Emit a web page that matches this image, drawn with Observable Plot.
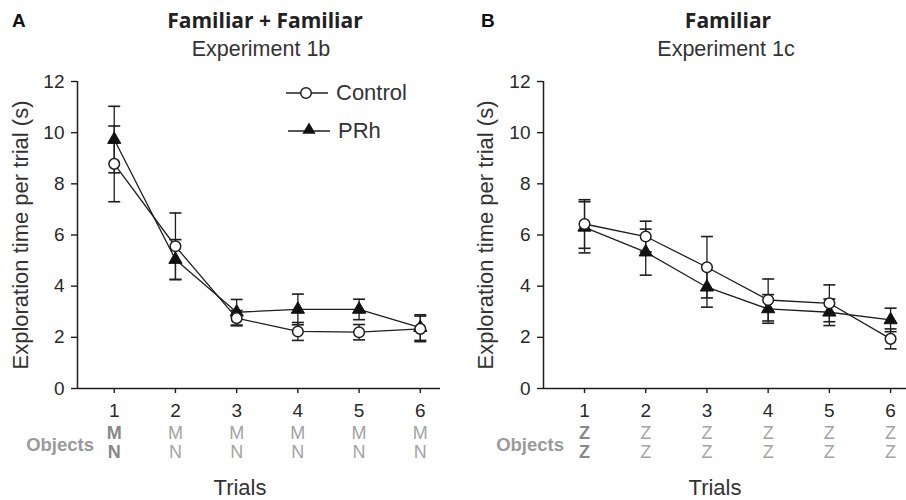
<!DOCTYPE html>
<html>
<head>
<meta charset="utf-8">
<script src="https://cdn.jsdelivr.net/npm/d3@7"></script>
<script src="https://cdn.jsdelivr.net/npm/@observablehq/plot@0.6"></script>
<style>
  html, body { margin: 0; padding: 0; background: #fff; }
  #wrap { position: relative; width: 906px; height: 500px; overflow: hidden; font-family: "Liberation Sans", Arial, sans-serif; color: #222; }
  #wrap > svg { position: absolute; top: 0; }
  .abs { position: absolute; white-space: nowrap; }
  .letter { font-weight: bold; font-size: 19px; color: #111; }
  .title { font-family: "Open Sans", "Liberation Sans", sans-serif; font-weight: 700; font-size: 21px; color: #222; transform: translateX(-50%); }
  .sub { font-size: 21.5px; color: #333; transform: translateX(-50%); }
  .ylab { font-size: 22px; color: #333; transform: translate(-50%, -50%) rotate(-90deg); }
  .xlab { font-size: 22px; color: #333; transform: translateX(-50%); }
  .objlab { font-weight: bold; font-size: 18.5px; color: #9a9a9a; transform: translateX(-100%); }
  .leg { font-size: 22px; color: #333; display: flex; align-items: center; }
</style>
</head>
<body>
<div id="wrap"></div>
<script>
// ---------- data ----------
const trials = [1, 2, 3, 4, 5, 6];
const yTicks = [0, 2, 4, 6, 8, 10, 12];

// Panel A: Familiar + Familiar (Experiment 1b)
const controlA = [8.78, 5.56, 2.75, 2.23, 2.2, 2.33];
const controlA_sem = [1.48, 1.3, 0.3, 0.35, 0.3, 0.5];
const prhA = [9.73, 5.04, 2.98, 3.09, 3.09, 2.38];
const prhA_sem = [1.3, 0.78, 0.5, 0.6, 0.4, 0.5];
const objTopA = ["M", "M", "M", "M", "M", "M"];
const objBottomA = ["N", "N", "N", "N", "N", "N"];

// Panel B: Familiar (Experiment 1c)
const controlB = [6.43, 5.94, 4.74, 3.46, 3.33, 1.94];
const controlB_sem = [0.95, 0.6, 1.2, 0.82, 0.72, 0.39];
const prhB = [6.3, 5.33, 3.96, 3.11, 2.98, 2.68];
const prhB_sem = [1.0, 0.9, 0.78, 0.56, 0.52, 0.46];
const objTopB = ["Z", "Z", "Z", "Z", "Z", "Z"];
const objBottomB = ["Z", "Z", "Z", "Z", "Z", "Z"];

// ---------- helpers ----------
const rows = (vals, sems) => trials.map((t, i) => ({trial: t, v: vals[i], e: sems[i]}));
const objRows = (top, bottom) => trials.map((t, i) => ({trial: t, top: top[i], bottom: bottom[i]}));
const capSymbol = {
  draw(ctx, size) {
    const w = Math.sqrt(size / Math.PI);
    ctx.moveTo(-w, 0);
    ctx.lineTo(w, 0);
  }
};
const INK = "#1e1e1e";

function panel({control, prh, objs, xDomain, marginLeft, marginRight}) {
  return Plot.plot({
    width: 453,
    height: 500,
    marginTop: 81,
    marginBottom: 112,
    marginLeft,
    marginRight,
    x: {domain: xDomain},
    y: {domain: [0, 12]},
    style: {background: "transparent", overflow: "visible", fontFamily: "Liberation Sans, Arial, sans-serif", fontSize: "19px", color: "#2a2a2a"},
    marks: [
      Plot.axisX(trials, {tickSize: 5, tickPadding: 10, fontSize: 19, tickFormat: d => String(d), label: null, stroke: INK, strokeWidth: 1.4}),
      Plot.axisY(yTicks, {tickSize: 6, tickPadding: 7, fontSize: 19, label: null, stroke: INK, strokeWidth: 1.4}),
      Plot.ruleY([0], {stroke: INK, strokeWidth: 1.5}),
      Plot.ruleX([xDomain[0]], {stroke: INK, strokeWidth: 1.5}),
      // connecting lines
      Plot.line(control, {x: "trial", y: "v", stroke: INK, strokeWidth: 1.3}),
      Plot.line(prh, {x: "trial", y: "v", stroke: INK, strokeWidth: 1.3}),
      // error bars
      Plot.ruleX(control, {x: "trial", y1: d => d.v - d.e, y2: d => d.v + d.e, stroke: INK, strokeWidth: 1.3}),
      Plot.ruleX(prh, {x: "trial", y1: d => d.v - d.e, y2: d => d.v + d.e, stroke: INK, strokeWidth: 1.3}),
      Plot.dot(control, {x: "trial", y: d => d.v + d.e, symbol: capSymbol, r: 6, stroke: INK, strokeWidth: 1.6}),
      Plot.dot(control, {x: "trial", y: d => d.v - d.e, symbol: capSymbol, r: 6, stroke: INK, strokeWidth: 1.6}),
      Plot.dot(prh, {x: "trial", y: d => d.v + d.e, symbol: capSymbol, r: 6, stroke: INK, strokeWidth: 1.6}),
      Plot.dot(prh, {x: "trial", y: d => d.v - d.e, symbol: capSymbol, r: 6, stroke: INK, strokeWidth: 1.6}),
      // markers
      Plot.dot(prh, {x: "trial", y: "v", symbol: "triangle", r: 4.9, fill: "#111", stroke: "#111", strokeWidth: 1}),
      Plot.dot(control, {x: "trial", y: "v", r: 5.3, fill: "white", stroke: INK, strokeWidth: 1.5}),
      // object rows below the axis
      Plot.text(objs, {filter: d => d.trial === 1, x: "trial", text: "top", frameAnchor: "bottom", dy: 50, fontSize: 18, fontWeight: "bold", fill: "#888"}),
      Plot.text(objs, {filter: d => d.trial === 1, x: "trial", text: "bottom", frameAnchor: "bottom", dy: 69, fontSize: 18, fontWeight: "bold", fill: "#888"}),
      Plot.text(objs, {filter: d => d.trial !== 1, x: "trial", text: "top", frameAnchor: "bottom", dy: 50, fontSize: 18, fill: "#a3a3a3"}),
      Plot.text(objs, {filter: d => d.trial !== 1, x: "trial", text: "bottom", frameAnchor: "bottom", dy: 69, fontSize: 18, fill: "#a3a3a3"})
    ]
  });
}

const wrap = document.getElementById("wrap");

const plotA = panel({
  control: rows(controlA, controlA_sem),
  prh: rows(prhA, prhA_sem),
  objs: objRows(objTopA, objBottomA),
  xDomain: [0.4, 6.33],
  marginLeft: 77,
  marginRight: 13
});
plotA.style.left = "0px";
wrap.appendChild(plotA);

const plotB = panel({
  control: rows(controlB, controlB_sem),
  prh: rows(prhB, prhB_sem),
  objs: objRows(objTopB, objBottomB),
  xDomain: [0.33, 6.26],
  marginLeft: 90,
  marginRight: 0
});
plotB.style.left = "453px";
wrap.appendChild(plotB);

// ---------- surrounding text ----------
function addText(cls, text, left, top) {
  const d = document.createElement("div");
  d.className = "abs " + cls;
  d.textContent = text;
  d.style.left = left + "px";
  d.style.top = top + "px";
  wrap.appendChild(d);
  return d;
}
addText("letter", "A", 12, 10);
addText("letter", "B", 481, 10);
addText("title", "Familiar + Familiar", 265, 6);
addText("title", "Familiar", 728, 6);
addText("sub", "Experiment 1b", 261, 37);
addText("sub", "Experiment 1c", 726, 37);
addText("ylab", "Exploration time per trial (s)", 21, 235);
addText("ylab", "Exploration time per trial (s)", 486, 235);
addText("xlab", "Trials", 240, 475);
addText("xlab", "Trials", 715, 475);
addText("objlab", "Objects", 94, 434);
addText("objlab", "Objects", 564, 434);

// legend (panel A)
function legendRow(label, symbolSvg, left, top) {
  const d = document.createElement("div");
  d.className = "abs leg";
  d.style.left = left + "px";
  d.style.top = top + "px";
  d.innerHTML = `<svg width="42" height="20" style="margin-right:8px" viewBox="0 0 42 20">
      <line x1="0" y1="10" x2="42" y2="10" stroke="${INK}" stroke-width="1.4"/>${symbolSvg}</svg><span>${label}</span>`;
  wrap.appendChild(d);
}
legendRow("Control", `<circle cx="20" cy="10" r="5.3" fill="white" stroke="${INK}" stroke-width="1.5"/>`, 286, 80);
legendRow("PRh", `<path d="${d3.symbol(d3.symbolTriangle, 4.9 * 4.9 * Math.PI)()}" transform="translate(21,9)" fill="#111"/>`, 288, 118);
</script>
</body>
</html>
